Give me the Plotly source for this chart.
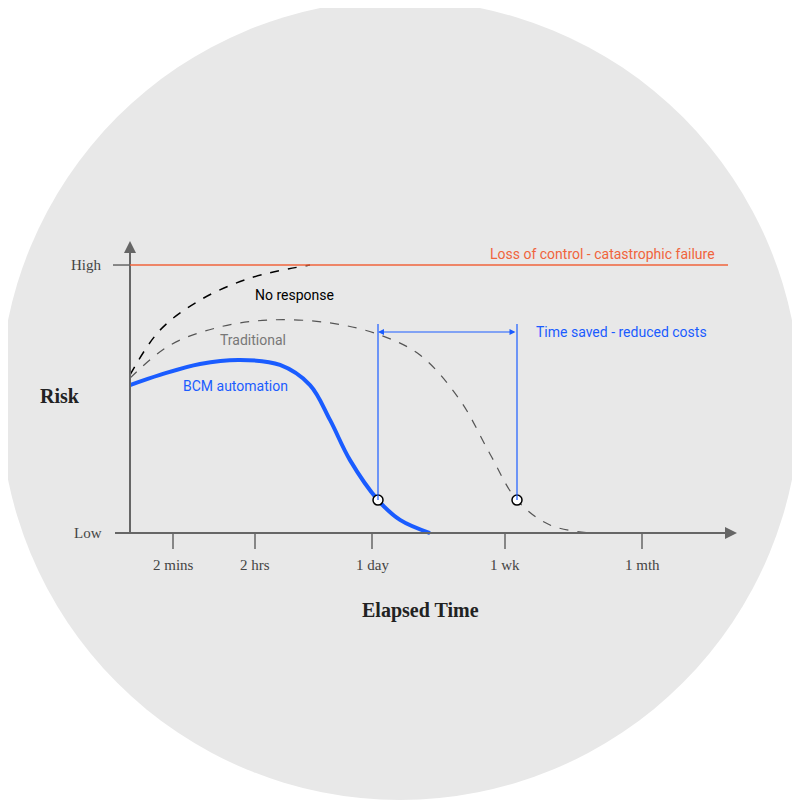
import plotly.graph_objects as go

# x in horizontal chart units (0-800), risk: 0 = Low, 1 = High
tick_labels = ["2 mins", "2 hrs", "1 day", "1 wk", "1 mth"]
tick_x = [173, 255, 372, 505, 642]

bcm_x = [130, 160, 200, 240, 280, 310, 330, 350, 378, 400, 430]
bcm_risk = [0.552, 0.590, 0.631, 0.646, 0.627, 0.552, 0.422, 0.272, 0.123, 0.049, 0.0]

trad_x = [130, 170, 220, 270, 330, 380, 420, 460, 490, 517, 550, 590]
trad_risk = [0.578, 0.701, 0.769, 0.795, 0.784, 0.739, 0.664, 0.496, 0.295, 0.123, 0.030, 0.0]

nores_x = [130, 160, 200, 250, 310]
nores_risk = [0.590, 0.757, 0.869, 0.951, 1.0]

saved_x = [378, 517]
saved_risk = [0.123, 0.123]
saved_top = 0.750

SERIF = "Liberation Serif"
SANS = "Roboto"
BLUE = "#1a5cff"
AX = "#666666"

fig = go.Figure()

fig.add_shape(type="circle", x0=0, y0=-0.996, x1=800, y1=1.989,
              fillcolor="#e8e8e8", line_width=0, layer="below")

# axes
fig.add_shape(type="line", x0=115, x1=725, y0=0, y1=0, line=dict(color=AX, width=2))
fig.add_shape(type="line", x0=130, x1=130, y0=0, y1=1.05, line=dict(color=AX, width=2))
fig.add_annotation(x=737, y=0, ax=720, ay=0, axref="x", ayref="y", text="", showarrow=True,
                   arrowhead=2, arrowsize=1.2, arrowwidth=2, arrowcolor=AX)
fig.add_annotation(x=130, y=1.09, ax=130, ay=1.03, axref="x", ayref="y", text="", showarrow=True,
                   arrowhead=2, arrowsize=1.2, arrowwidth=2, arrowcolor=AX)
fig.add_shape(type="line", x0=113, x1=130, y0=1, y1=1, line=dict(color=AX, width=1.5))
for tx, tl in zip(tick_x, tick_labels):
    fig.add_shape(type="line", x0=tx, x1=tx, y0=0, y1=-0.06, line=dict(color=AX, width=1.5))
    fig.add_annotation(x=tx, y=-0.12, text=tl, showarrow=False,
                       font=dict(family=SERIF, size=15, color="#444"))

fig.add_shape(type="line", x0=130, x1=728, y0=1, y1=1, line=dict(color="#f0643c", width=1.5))

fig.add_trace(go.Scatter(x=nores_x, y=nores_risk, mode="lines", line=dict(color="black", width=1.5, dash="dash", shape="spline")))
fig.add_trace(go.Scatter(x=trad_x, y=trad_risk, mode="lines", line=dict(color="#555", width=1.2, dash="dash", shape="spline")))
fig.add_trace(go.Scatter(x=bcm_x, y=bcm_risk, mode="lines", line=dict(color=BLUE, width=4, shape="spline")))

for sx, sr in zip(saved_x, saved_risk):
    fig.add_shape(type="line", x0=sx, x1=sx, y0=sr, y1=saved_top + 0.03, line=dict(color=BLUE, width=1.2))
fig.add_annotation(x=saved_x[0], y=saved_top, ax=saved_x[1], ay=saved_top, axref="x", ayref="y",
                   text="", showarrow=True, arrowhead=2, arrowside="end+start", arrowwidth=1.2, arrowcolor=BLUE)
fig.add_trace(go.Scatter(x=saved_x, y=saved_risk, mode="markers",
                         marker=dict(color="white", size=10, line=dict(color="black", width=1.5))))

def label(x, y, text, color, family=SANS, size=14, xanchor="left"):
    fig.add_annotation(x=x, y=y, text=text, showarrow=False, xanchor=xanchor,
                       font=dict(family=family, size=size, color=color))

label(488, 1.04, "Loss of control - catastrophic failure", "#f0643c")
label(253, 0.89, "No response", "black")
label(218, 0.72, "Traditional", "#777")
label(181, 0.55, "BCM automation", BLUE)
label(534, 0.75, "Time saved - reduced costs", BLUE)
label(104, 1.0, "High", "#444", SERIF, 15, "right")
label(104, 0.0, "Low", "#444", SERIF, 15, "right")
label(82, 0.51, "<b>Risk</b>", "#222", SERIF, 20, "right")
label(420, -0.29, "<b>Elapsed Time</b>", "#222", SERIF, 20, "center")

# ranges offset by 8px to compensate for the page's body margin
fig.update_layout(width=800, height=800, margin=dict(l=0, r=0, t=0, b=0),
                  paper_bgcolor="white", plot_bgcolor="rgba(0,0,0,0)", showlegend=False,
                  xaxis=dict(range=[8, 808], visible=False, fixedrange=True),
                  yaxis=dict(range=[-1.026, 1.959], visible=False, fixedrange=True))
fig.write_html("out.html")
